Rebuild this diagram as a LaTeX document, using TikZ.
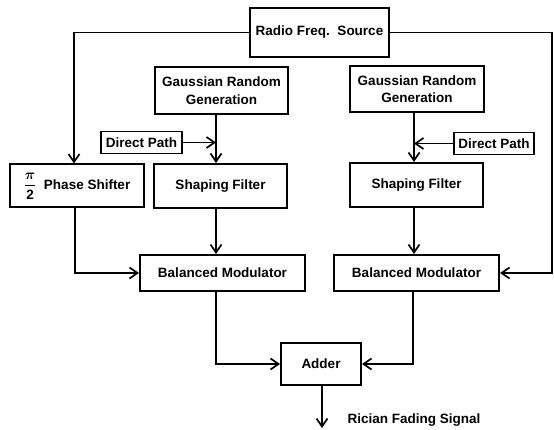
\documentclass[tikz,border=0pt]{standalone}
\usepackage{bm}
\usepackage{fontspec}
\setmainfont{Liberation Sans}
\usetikzlibrary{arrows.meta}
\begin{document}
\begin{tikzpicture}[x=1pt,y=-1pt,
  blk/.style={draw, line width=2pt, rectangle, inner sep=0pt, align=center,
    font=\fontsize{13.5}{17.5}\selectfont\bfseries},
  conn/.style={line width=1.7pt, -{Straight Barb[length=8pt,width=11pt,line width=1.7pt]}},
  wire/.style={line width=1.7pt}]
\useasboundingbox (0,0) rectangle (554,430);
\node[blk, minimum width=139, minimum height=49] (RFS) at (319.5,32.5) {Radio Freq.\ \ Source};
\node[blk, minimum width=133, minimum height=47] (GL) at (221.5,90.5) {Gaussian Random\\Generation};
\node[blk, minimum width=134, minimum height=46] (GR) at (417,89) {Gaussian Random\\Generation};
\node[blk, minimum width=81, minimum height=22, line width=1.7pt] (DPL) at (141.5,142.5) {Direct Path};
\node[blk, minimum width=80, minimum height=22, line width=1.7pt] (DPR) at (494,143.5) {Direct Path};
\node[blk, minimum width=134, minimum height=43] (PS) at (77,186) {$\displaystyle\frac{\bm{\pi}}{\mathbf{2}}$\ \ Phase Shifter};
\node[blk, minimum width=133, minimum height=44] (SFL) at (220.5,186) {Shaping Filter};
\node[blk, minimum width=133, minimum height=44] (SFR) at (416.5,185) {Shaping Filter};
\node[blk, minimum width=165, minimum height=36] (BML) at (222.5,273) {Balanced Modulator};
\node[blk, minimum width=165, minimum height=36] (BMR) at (416.5,273) {Balanced Modulator};
\node[blk, minimum width=80, minimum height=42] (ADD) at (321,364) {Adder};
\node[font=\fontsize{13.5}{16}\selectfont\bfseries] (OUT) at (414,420.5) {Rician Fading Signal};
% coordinates
\coordinate (jl) at (216,142.5);
\coordinate (jr) at (414,143.5);
\coordinate (re) at (552,32.5);
\coordinate (o) at (322,428);
% connectors
\draw[conn] (RFS.west) -| ([xshift=-3pt]PS.north);
\draw[wire] (RFS.east) -- (re);
\draw[conn] (re) |- (BMR.east);
\draw[wire] (GL.south -| jl) -- (jl);
\draw[conn] (jl) -- (SFL.north -| jl);
\draw[conn] (DPL.east) -- (jl);
\draw[wire] (GR.south -| jr) -- (jr);
\draw[conn] (jr) -- (SFR.north -| jr);
\draw[conn] (DPR.west) -- (jr);
\draw[conn] (SFL.south -| jl) -- (BML.north -| jl);
\draw[conn] (SFR.south -| jr) -- (BMR.north -| jr);
\draw[conn] ([xshift=-2pt]PS.south) |- (BML.west);
\draw[conn] (BML.south -| jl) |- (ADD.west);
\draw[conn] (BMR.south -| 413,0) |- (ADD.east);
\draw[conn] (ADD.south -| o) -- (o);
\end{tikzpicture}
\end{document}
